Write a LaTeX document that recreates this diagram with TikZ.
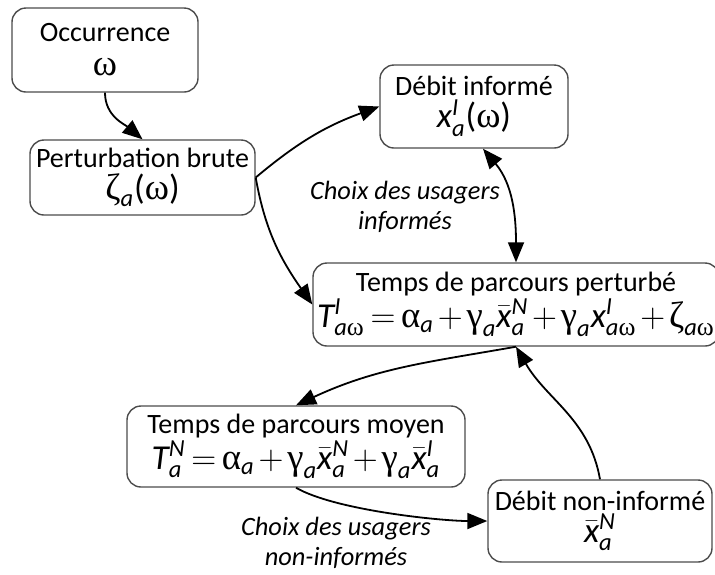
\documentclass[tikz,border=0pt]{standalone}
\usepackage{amsmath}
\usepackage{fontspec}
\setmainfont{Carlito}
\newfontfamily\grk[Scale=1.05]{Liberation Serif}
\usetikzlibrary{positioning, arrows.meta}
\newcommand{\iv}[1]{\text{\normalfont\itshape #1}}
\newcommand{\gk}[1]{\text{\grk #1}}
\newcommand{\fml}{\fontsize{17.5}{20.5}\selectfont\medmuskip=2mu plus 1mu\thickmuskip=3mu plus 2mu}

\begin{document}
\begin{tikzpicture}[
        x=0.5pt, y=-0.5pt,
        varbox/.style={rectangle, rounded corners=7pt, draw=black!70, line width=0.7pt, align=center, inner sep=1pt, font=\fontsize{14}{16}\selectfont},
        lbl/.style={align=center, font=\fontsize{13.2}{15}\selectfont\itshape},
        arr/.style={-{Triangle[length=10pt, width=8pt]}, line width=0.9pt},
    ]
        \clip (0,0) rectangle (715,574);

        % Occurrence and perturbation
        \node[varbox, minimum width=93pt, minimum height=42pt] (occ) at (105,50) {Occurrence\\[1pt]\fml$\gk{ω}$};
        \node[varbox, minimum width=112.5pt, minimum height=37.5pt] (pert) at (142.5,177.5) {Perturbation brute\\\fml$\gk{ζ}_{\iv{a}}\text{(}\gk{ω}\text{)}$};

        % Flows
        \node[varbox, minimum width=94pt, minimum height=41.5pt] (info) at (474,106.5) {Débit informé\\\fml$\iv{x}^{\iv{I}}_{\iv{a}}\text{(}\gk{ω}\text{)}$};
        \node[varbox, minimum width=112pt, minimum height=41pt] (noninf) at (600,521) {Débit non-informé\\\fml$\bar{\iv{x}}^{\iv{N}}_{\iv{a}}$};

        % Travel times
        \node[varbox, minimum width=203pt, minimum height=41.5pt] (tpert) at (516,304.5) {Temps de parcours perturbé\\\fml$\iv{T}^{\iv{I}}_{\iv{a}\gk{ω}} = \gk{α}_{\iv{a}} + \gk{γ}_{\iv{a}}\bar{\iv{x}}^{\iv{N}}_{\iv{a}} + \gk{γ}_{\iv{a}}\iv{x}^{\iv{I}}_{\iv{a}\gk{ω}} + \gk{ζ}_{\iv{a}\gk{ω}}$};
        \node[varbox, minimum width=169pt, minimum height=40.5pt] (moy) at (296,446.5) {Temps de parcours moyen\\\fml$\iv{T}^{\iv{N}}_{\iv{a}} = \gk{α}_{\iv{a}} + \gk{γ}_{\iv{a}}\bar{\iv{x}}^{\iv{N}}_{\iv{a}} + \gk{γ}_{\iv{a}}\bar{\iv{x}}^{\iv{I}}_{\iv{a}}$};

        % Choice labels
        \node[lbl] (chinf) at (405,207) {Choix des usagers\\informés};
        \node[lbl] (chnon) at (336,543) {Choix des usagers\\non-informés};

        % Arrows
        \draw[arr] (occ.south) to[out=-90, in=140] (pert.north);
        \draw[arr] (pert.east) to[out=40, in=200] (info.west);
        \draw[arr] (pert.east) to[out=-80, in=125] (tpert.west);
        \draw[arr, {Triangle[length=10pt, width=8pt]}-{Triangle[length=10pt, width=8pt]}] ([xshift=4.5pt]info.south) to[out=-50, in=90] (tpert.north);
        \draw[arr] (tpert.south) to[out=190, in=25] (moy.north);
        \draw[arr] (moy.south) to[out=-30, in=180, looseness=0.6] (noninf.west);
        \draw[arr] (noninf.north) to[out=100, in=-60] (tpert.south);
    \end{tikzpicture}
\end{document}
